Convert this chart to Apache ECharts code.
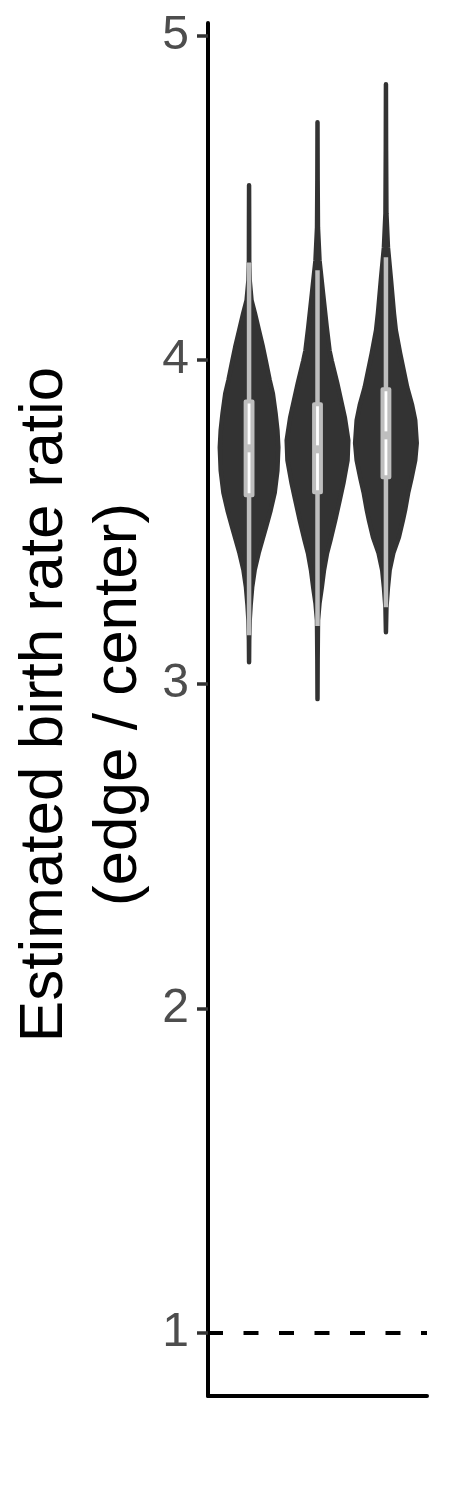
<!DOCTYPE html>
<html><head><meta charset="utf-8">
<script src="https://cdn.jsdelivr.net/npm/echarts@6/dist/echarts.min.js"></script>
<style>html,body{margin:0;padding:0;background:#fff}#c{width:450px;height:1500px}</style>
</head><body><div id="c"></div>
<script>
// ---- data ----
const groups = ['1', '2', '3'];
const yTickValues = [1, 2, 3, 4, 5];
const referenceLine = 1;

// violin density profiles: [value, relative density]
const violin1 = [[4.538,0],[4.430,0.003],[4.300,0.005],[4.245,0.02],[4.183,0.08],[4.143,0.19],[4.091,0.32],[4.039,0.45],[3.998,0.54],[3.937,0.67],[3.897,0.77],[3.835,0.86],[3.783,0.92],[3.730,0.95],[3.659,0.92],[3.589,0.83],[3.536,0.70],[3.484,0.55],[3.404,0.31],[3.351,0.18],[3.299,0.10],[3.243,0.05],[3.197,0.02],[3.136,0.005],[3.068,0]];
const violin2 = [[4.732,0],[4.553,0.005],[4.408,0.015],[4.307,0.065],[4.205,0.18],[4.100,0.30],[4.029,0.39],[3.998,0.46],[3.928,0.64],[3.823,0.885],[3.752,1.0],[3.690,0.975],[3.619,0.84],[3.567,0.72],[3.505,0.575],[3.444,0.42],[3.404,0.31],[3.351,0.21],[3.299,0.14],[3.250,0.065],[3.197,0.016],[3.074,0.005],[2.954,0]];
const violin3 = [[4.849,0],[4.646,0.005],[4.451,0.016],[4.347,0.065],[4.245,0.165],[4.143,0.26],[4.091,0.32],[4.020,0.46],[3.915,0.69],[3.860,0.85],[3.814,0.95],[3.743,1.0],[3.690,0.95],[3.635,0.83],[3.589,0.72],[3.536,0.62],[3.505,0.55],[3.453,0.42],[3.404,0.24],[3.351,0.12],[3.299,0.065],[3.237,0.016],[3.160,0]];

// box statistics per group
const whiskerLow  = [3.151, 3.179, 3.237];
const q1Values    = [3.582, 3.592, 3.638];
const medians     = [3.727, 3.724, 3.767];
const q3Values    = [3.871, 3.863, 3.909];
const whiskerHigh = [4.300, 4.276, 4.316];

// ---- drawing ----
const violins = [violin1, violin2, violin3];
const VIOLIN_HALF = 0.45;
const BOX_HALF = 0.05;
const DARK = '#333333';
const GREY = '#BEBEBE';

const chart = echarts.init(document.getElementById('c'), null, {renderer: 'canvas'});

function renderViolin(params, api) {
  const i = api.value(0);
  const cx = i + 1;
  const prof = violins[i];
  const right = prof.map(p => api.coord([cx + p[1] * VIOLIN_HALF, p[0]]));
  const left = prof.slice().reverse().map(p => api.coord([cx - p[1] * VIOLIN_HALF, p[0]]));
  return {
    type: 'polygon',
    shape: {points: right.concat(left), smooth: 0},
    style: {fill: DARK, stroke: DARK, lineWidth: 4.5, lineJoin: 'round'}
  };
}

function renderBox(params, api) {
  const i = api.value(0);
  const cx = i + 1;
  const top = api.coord([cx, q3Values[i]]);
  const bot = api.coord([cx, q1Values[i]]);
  const wl = api.coord([cx, whiskerLow[i]]);
  const wh = api.coord([cx, whiskerHigh[i]]);
  const med = api.coord([cx, medians[i]]);
  const xl = api.coord([cx - BOX_HALF, medians[i]])[0];
  const xr = api.coord([cx + BOX_HALF, medians[i]])[0];
  return {
    type: 'group',
    children: [
      {type: 'line', shape: {x1: wh[0], y1: wh[1], x2: top[0], y2: top[1]}, style: {stroke: GREY, lineWidth: 4.5, lineCap: 'butt'}},
      {type: 'line', shape: {x1: bot[0], y1: bot[1], x2: wl[0], y2: wl[1]}, style: {stroke: GREY, lineWidth: 4.5, lineCap: 'butt'}},
      {type: 'rect', shape: {x: xl, y: top[1], width: xr - xl, height: bot[1] - top[1]}, style: {fill: '#FFFFFF', stroke: GREY, lineWidth: 4, lineJoin: 'round'}},
      {type: 'line', shape: {x1: xl, y1: med[1], x2: xr, y2: med[1]}, style: {stroke: GREY, lineWidth: 8, lineCap: 'butt'}}
    ]
  };
}

const option = {
  backgroundColor: '#FFFFFF',
  animation: false,
  grid: {left: 208, right: 23, top: 23, bottom: 104, containLabel: false},
  xAxis: {
    type: 'value', min: 0.4, max: 3.6,
    axisLine: {show: true, onZero: false, lineStyle: {color: '#000000', width: 4}},
    axisTick: {show: false}, axisLabel: {show: false}, splitLine: {show: false}
  },
  yAxis: {
    type: 'value', min: 0.806, max: 5.038,
    name: 'Estimated birth rate ratio\n(edge / center)',
    nameLocation: 'middle', nameRotate: 90, nameGap: 52,
    nameTextStyle: {fontSize: 62, color: '#000000', fontFamily: 'Liberation Sans', lineHeight: 74, padding: [0, 0, 0, 10]},
    axisLine: {show: true, onZero: false, lineStyle: {color: '#000000', width: 4}},
    axisTick: {show: true, length: 11, customValues: yTickValues, lineStyle: {color: '#333333', width: 3.5}},
    axisLabel: {show: true, customValues: yTickValues, margin: 19, fontSize: 48, color: '#4D4D4D', fontFamily: 'Liberation Sans'},
    splitLine: {show: false}
  },
  series: [
    {
      type: 'line', data: [], silent: true,
      markLine: {
        silent: true, symbol: ['none', 'none'], label: {show: false},
        lineStyle: {color: '#000000', width: 4, type: [15, 20.5]},
        data: [{yAxis: referenceLine}]
      }
    },
    {type: 'custom', renderItem: renderViolin, data: groups.map((g, i) => [i]), silent: true},
    {type: 'custom', renderItem: renderBox, data: groups.map((g, i) => [i]), silent: true}
  ]
};
chart.setOption(option);
</script>
</body></html>
